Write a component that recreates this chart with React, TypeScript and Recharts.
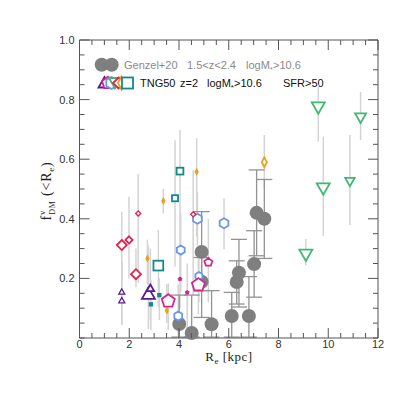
import React from 'react';
import { ScatterChart, Scatter, XAxis, YAxis, ZAxis, ErrorBar, Customized } from 'recharts';

// ---------- Tick values ----------
const xMajorTicks = [0, 2, 4, 6, 8, 10, 12];
const xAllTicks = [0, 0.5, 1, 1.5, 2, 2.5, 3, 3.5, 4, 4.5, 5, 5.5, 6, 6.5, 7, 7.5, 8, 8.5, 9, 9.5, 10, 10.5, 11, 11.5, 12];
const yMajorTicks = [0.2, 0.4, 0.6, 0.8, 1.0];
const yAllTicks = [0, 0.05, 0.1, 0.15, 0.2, 0.25, 0.3, 0.35, 0.4, 0.45, 0.5, 0.55, 0.6, 0.65, 0.7, 0.75, 0.8, 0.85, 0.9, 0.95, 1.0];

// ---------- Genzel+20 observations ----------
const genzelRe = [4.01, 4.51, 5.31, 6.12, 6.81, 4.91, 4.91, 6.32, 6.41, 7.02, 7.12, 7.43];
const genzelFdm = [0.047, 0.017, 0.046, 0.074, 0.074, 0.289, 0.189, 0.188, 0.219, 0.248, 0.42, 0.40];
const genzelLo = [0.003, 0.003, 0.003, 0.003, 0.003, 0.159, 0.069, 0.114, 0.104, 0.137, 0.276, 0.267];
const genzelHi = [0.144, 0.144, 0.159, 0.153, 0.206, 0.424, 0.27, 0.259, 0.331, 0.36, 0.564, 0.532];

// ---------- TNG50 galaxies (weight = third quantity mapped to marker area) ----------
const purpleRe = [1.70, 1.70, 2.77, 2.85];
const purpleFdm = [0.153, 0.124, 0.144, 0.165];
const purpleLo = [0.044, 0.044, 0.03, 0.06];
const purpleHi = [0.256, 0.256, 0.31, 0.30];
const purpleW = [28, 28, 133, 45];

const redRe = [1.70, 1.99, 2.27, 2.36, 4.57];
const redFdm = [0.312, 0.329, 0.214, 0.418, 0.415];
const redLo = [0.185, 0.2, 0.17, 0.185, 0.144];
const redHi = [0.424, 0.474, 0.30, 0.55, 0.564];
const redW = [79, 40, 79, 20, 20];

const orangeRe = [3.37, 4.71, 2.73, 3.51, 7.43];
const orangeFdm = [0.46, 0.558, 0.267, 0.092, 0.59];
const orangeLo = [0.418, 0.34, 0.18, 0.05, 0.5];
const orangeHi = [0.50, 0.67, 0.33, 0.18, 0.681];
const orangeW = [16, 16, 16, 16, 50];

const tealRe = [4.04, 3.84, 3.17, 3.21, 2.87];
const tealFdm = [0.56, 0.469, 0.243, 0.144, 0.113];
const tealLo = [0.30, 0.24, 0.105, 0.06, 0.027];
const tealHi = [0.698, 0.664, 0.362, 0.2, 0.195];
const tealW = [50, 40, 104, 10, 10];

const blueRe = [4.74, 5.81, 4.07, 4.80, 3.97];
const blueFdm = [0.40, 0.385, 0.295, 0.208, 0.074];
const blueLo = [0.31, 0.298, 0.155, 0.12, 0.003];
const blueHi = [0.49, 0.469, 0.42, 0.30, 0.18];
const blueW = [79, 79, 64, 50, 64];

const magentaRe = [5.18, 4.78, 3.57, 4.04, 4.33];
const magentaFdm = [0.254, 0.178, 0.124, 0.198, 0.153];
const magentaLo = [0.12, 0.08, 0.027, 0.1, 0.02];
const magentaHi = [0.40, 0.28, 0.183, 0.3, 0.25];
const magentaW = [50, 133, 133, 8, 8];

const greenRe = [9.60, 11.30, 9.80, 10.87, 9.10];
const greenFdm = [0.778, 0.743, 0.506, 0.528, 0.284];
const greenLo = [0.659, 0.664, 0.343, 0.379, 0.243];
const greenHi = [0.85, 0.826, 0.675, 0.681, 0.332];
const greenW = [133, 95, 133, 71, 133];

type Pt = { x: number; y: number; w: number; err: [number, number] };
const build = (re: number[], f: number[], lo: number[], hi: number[], w?: number[]): Pt[] =>
  re.map((x, i) => ({ x, y: f[i], w: w ? w[i] : 150, err: [f[i] - lo[i], hi[i] - f[i]] }));

const genzelData = build(genzelRe, genzelFdm, genzelLo, genzelHi);
const purpleData = build(purpleRe, purpleFdm, purpleLo, purpleHi, purpleW);
const redData = build(redRe, redFdm, redLo, redHi, redW);
const orangeData = build(orangeRe, orangeFdm, orangeLo, orangeHi, orangeW);
const tealData = build(tealRe, tealFdm, tealLo, tealHi, tealW);
const blueData = build(blueRe, blueFdm, blueLo, blueHi, blueW);
const magentaData = build(magentaRe, magentaFdm, magentaLo, magentaHi, magentaW);
const greenData = build(greenRe, greenFdm, greenLo, greenHi, greenW);
const tngAll = [...greenData, ...orangeData, ...blueData, ...tealData, ...redData, ...magentaData, ...purpleData];

// ---------- styling ----------
const C = {
  purple: '#581c8c',
  red: '#e61e4d',
  orange: '#e8a21c',
  teal: '#138a8a',
  blue: '#6a96ee',
  magenta: '#d3258e',
  green: '#3fb872',
  gray: '#7f7f7f',
  frame: '#555555',
};
const SANS = '"Liberation Sans", Arial, Helvetica, sans-serif';
const SERIF = '"Liberation Serif", "Times New Roman", serif';
const MAJOR = 10;
const MINOR = 5;

const polyPts = (cx: number, cy: number, r: number, n: number, start: number) =>
  Array.from({ length: n }, (_, k) => {
    const a = ((start + (360 * k) / n) * Math.PI) / 180;
    return `${cx + r * Math.cos(a)},${cy + r * Math.sin(a)}`;
  }).join(' ');

function marker(kind: string, color: string, cx: number, cy: number, d: number, key?: string) {
  const tiny = d < 4.6 && kind !== 'diamond';
  const sw = d >= 6.5 ? 1.8 : 1.3;
  const common = { fill: tiny ? color : '#ffffff', stroke: color, strokeWidth: sw, key } as any;
  switch (kind) {
    case 'triUp':
      return <polygon points={`${cx},${cy - 0.58 * d} ${cx - d / 2},${cy + 0.29 * d} ${cx + d / 2},${cy + 0.29 * d}`} {...common} />;
    case 'triDown':
      return <polygon points={`${cx - d / 2},${cy - 0.29 * d} ${cx + d / 2},${cy - 0.29 * d} ${cx},${cy + 0.58 * d}`} {...common} />;
    case 'diamond':
      return <polygon points={`${cx},${cy - d / 2} ${cx + d / 2},${cy} ${cx},${cy + d / 2} ${cx - d / 2},${cy}`} {...common} />;
    case 'thinDiamond':
      return <polygon points={`${cx},${cy - 0.6 * d} ${cx + 0.32 * d},${cy} ${cx},${cy + 0.6 * d} ${cx - 0.32 * d},${cy}`} {...common} />;
    case 'square': {
      const s = 0.85 * d;
      return <rect x={cx - s / 2} y={cy - s / 2} width={s} height={s} {...common} />;
    }
    case 'hex':
      return <polygon points={polyPts(cx, cy, d / 2, 6, -90)} {...common} />;
    case 'pent':
      return <polygon points={polyPts(cx, cy, d / 2 * 1.05, 5, -90)} {...common} />;
    default:
      return <circle cx={cx} cy={cy} r={d / 2} {...common} />;
  }
}

const shapeFor = (kind: string, color: string) => (p: any) => {
  const size = typeof p.size === 'number' && isFinite(p.size) ? p.size : 50;
  const d = 2 * Math.sqrt(Math.max(size, 0) / Math.PI);
  return marker(kind, color, p.cx, p.cy, d);
};
const genzelShape = (p: any) => <circle cx={p.cx} cy={p.cy} r={7} fill={C.gray} />;
const noShape = () => <g />;

const near = (a: number, list: number[]) => list.some((b) => Math.abs(a - b) < 1e-6);

const BottomTick = (p: any) => {
  const v = p.payload.value;
  const major = near(v, xMajorTicks);
  return (
    <g>
      <line x1={p.x} x2={p.x} y1={p.y} y2={p.y - (major ? MAJOR : MINOR)} stroke={C.frame} strokeWidth={1} />
      {major && (
        <text x={p.x} y={p.y + 10} textAnchor="middle" fontFamily={SANS} fontSize={11} fill="#333">
          {String(v)}
        </text>
      )}
    </g>
  );
};
const TopTick = (p: any) => {
  const major = near(p.payload.value, xMajorTicks);
  return <line x1={p.x} x2={p.x} y1={p.y} y2={p.y + (major ? MAJOR : MINOR)} stroke={C.frame} strokeWidth={1} />;
};
const LeftTick = (p: any) => {
  const v = p.payload.value;
  const major = near(v, yMajorTicks);
  return (
    <g>
      <line x1={p.x} x2={p.x + (major ? MAJOR : MINOR)} y1={p.y} y2={p.y} stroke={C.frame} strokeWidth={1} />
      {major && (
        <text x={p.x - 5} y={p.y + 4} textAnchor="end" fontFamily={SANS} fontSize={11} fill="#333">
          {v.toFixed(1)}
        </text>
      )}
    </g>
  );
};
const RightTick = (p: any) => {
  const major = near(p.payload.value, yMajorTicks);
  return <line x1={p.x} x2={p.x - (major ? MAJOR : MINOR)} y1={p.y} y2={p.y} stroke={C.frame} strokeWidth={1} />;
};

const Decorations = () => (
  <g>
    {/* y title */}
    <g transform="translate(38.5,183) rotate(-90)">
      <text x={0} y={4} textAnchor="middle" fontFamily={SERIF} fontSize={14} letterSpacing={0.8} fill="#222">
        <tspan>f</tspan>
        <tspan dy={-6} fontSize={9}>v</tspan>
        <tspan dx={-5} dy={10} fontSize={8}>DM</tspan>
        <tspan dy={-4}> (&lt;R</tspan>
        <tspan dy={3} fontSize={9}>e</tspan>
        <tspan dy={-3}>)</tspan>
      </text>
    </g>
    {/* x title */}
    <text x={221} y={353} textAnchor="middle" fontFamily={SERIF} fontSize={13} letterSpacing={0.5} fill="#222">
      <tspan>R</tspan>
      <tspan dy={3} fontSize={9}>e</tspan>
      <tspan dy={-3}> [kpc]</tspan>
    </text>
    {/* legend row 1 */}
    <circle cx={93.7} cy={56.7} r={7} fill={C.gray} />
    <circle cx={103.7} cy={56.7} r={7} fill={C.gray} />
    <text x={116} y={60.5} fontFamily={SANS} fontSize={11} fill="#8a8a8a">
      <tspan>Genzel+20</tspan>
      <tspan x={179}>1.5&lt;z&lt;2.4</tspan>
      <tspan x={238}>logM</tspan>
      <tspan dy={3} fontSize={8}>*</tspan>
      <tspan dy={-3}>&gt;10.6</tspan>
    </text>
    {/* legend row 2 */}
    {marker('triUp', C.purple, 96.5, 76, 12, 'l1')}
    {marker('pent', C.magenta, 100, 75, 12, 'l2')}
    {marker('hex', C.blue, 103.5, 75, 12, 'l3')}
    {marker('triDown', C.green, 107, 73.5, 12, 'l4')}
    {marker('diamond', C.red, 110.5, 75, 11, 'l5')}
    {marker('thinDiamond', C.orange, 113.5, 75, 11, 'l6')}
    {marker('square', C.teal, 119.5, 75, 13, 'l7')}
    <text x={132} y={79} fontFamily={SANS} fontSize={11} fill="#111">
      <tspan>TNG50</tspan>
      <tspan x={172}>z=2</tspan>
      <tspan x={199}>logM</tspan>
      <tspan dy={3} fontSize={8}>*</tspan>
      <tspan dy={-3}>&gt;10.6</tspan>
      <tspan x={275}>SFR&gt;50</tspan>
    </text>
  </g>
);

export default function App() {
  return (
    <div style={{ width: 383, height: 383 }}>
      <ScatterChart width={383} height={383} margin={{ top: 31, right: 12, bottom: 52, left: 0 }}>
        <XAxis
          type="number"
          dataKey="x"
          domain={[0, 12]}
          ticks={xAllTicks}
          interval={0}
          height={1}
          tickSize={0}
          tickMargin={0}
          tick={BottomTick}
          axisLine={{ stroke: C.frame }}
        />
        <XAxis
          xAxisId="top"
          orientation="top"
          type="number"
          dataKey="x"
          domain={[0, 12]}
          ticks={xAllTicks}
          interval={0}
          height={1}
          tickSize={0}
          tickMargin={0}
          tick={TopTick}
          axisLine={{ stroke: C.frame }}
        />
        <YAxis
          type="number"
          dataKey="y"
          domain={[0, 1]}
          ticks={yAllTicks}
          interval={0}
          width={71.5}
          tickSize={0}
          tickMargin={0}
          tick={LeftTick}
          axisLine={{ stroke: C.frame }}
        />
        <YAxis
          yAxisId="right"
          orientation="right"
          type="number"
          dataKey="y"
          domain={[0, 1]}
          ticks={yAllTicks}
          interval={0}
          width={1}
          tickSize={0}
          tickMargin={0}
          tick={RightTick}
          axisLine={{ stroke: C.frame }}
        />
        <ZAxis type="number" dataKey="w" domain={[0, 200]} range={[0, 200]} />

        <Scatter data={genzelData} xAxisId="top" yAxisId="right" shape={noShape} isAnimationActive={false} />
        <Scatter data={tngAll} shape={noShape} isAnimationActive={false}>
          <ErrorBar dataKey="err" direction="y" width={0} stroke="#d4d4d4" strokeWidth={1.5} />
        </Scatter>
        <Scatter data={genzelData} shape={genzelShape} isAnimationActive={false}>
          <ErrorBar dataKey="err" direction="y" width={8} stroke="#939393" strokeWidth={1.3} />
        </Scatter>
        <Scatter data={greenData} shape={shapeFor('triDown', C.green)} isAnimationActive={false} />
        <Scatter data={orangeData} shape={shapeFor('thinDiamond', C.orange)} isAnimationActive={false} />
        <Scatter data={blueData} shape={shapeFor('hex', C.blue)} isAnimationActive={false} />
        <Scatter data={tealData} shape={shapeFor('square', C.teal)} isAnimationActive={false} />
        <Scatter data={redData} shape={shapeFor('diamond', C.red)} isAnimationActive={false} />
        <Scatter data={magentaData} shape={shapeFor('pent', C.magenta)} isAnimationActive={false} />
        <Scatter data={purpleData} shape={shapeFor('triUp', C.purple)} isAnimationActive={false} />
        <Customized component={Decorations} />
      </ScatterChart>
    </div>
  );
}
